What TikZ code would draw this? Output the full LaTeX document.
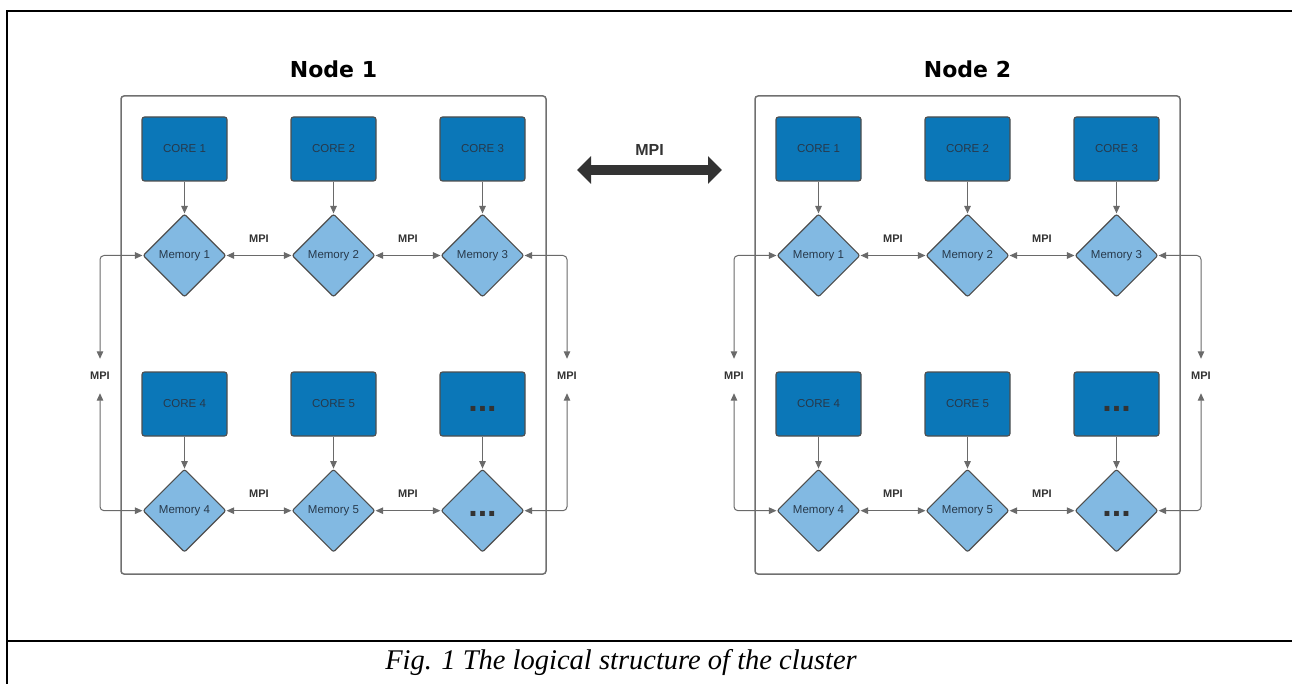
\documentclass[tikz,border=0pt]{standalone}
\usepackage{fontspec}
\setmainfont{Liberation Sans}
\newfontfamily\titlefont{DejaVu Sans}
\newfontfamily\capfont{Liberation Serif}
\usetikzlibrary{arrows.meta,shapes.geometric}

\definecolor{coreblue}{HTML}{0B77B8}
\definecolor{memblue}{HTML}{82B9E2}
\definecolor{edgegray}{HTML}{6A6A6A}
\definecolor{boxgray}{HTML}{4E4E4E}
\definecolor{framegray}{HTML}{707070}
\definecolor{labeltext}{HTML}{27394B}
\definecolor{darkarrow}{HTML}{333333}

% one compute node: title, frame, 2x3 cores with their memories and MPI links
\newcommand\clusterblock[3]{%
  \begin{scope}[xshift=#2pt]
    \node[titletext] (#1title) at (333.5,69) {Node #3};
    \node[framebox] (#1frame) at (333.5,335) {};
    % cores
    \node[corebox] (#1c1) at (184.5,149) {CORE 1};
    \node[corebox] (#1c2) at (333.5,149) {CORE 2};
    \node[corebox] (#1c3) at (482.5,149) {CORE 3};
    \node[corebox] (#1c4) at (184.5,404) {CORE 4};
    \node[corebox] (#1c5) at (333.5,404) {CORE 5};
    \node[corebox] (#1c6) at (482.5,404) {\rule{0pt}{14.5pt}\dotsmark};
    % memories
    \node[memnode] (#1m1) at (184.5,255.5) {Memory 1};
    \node[memnode] (#1m2) at (333.5,255.5) {Memory 2};
    \node[memnode] (#1m3) at (482.5,255.5) {Memory 3};
    \node[memnode] (#1m4) at (184.5,510.7) {Memory 4};
    \node[memnode] (#1m5) at (333.5,510.7) {Memory 5};
    \node[memnode] (#1m6) at (482.5,510.7) {\rule{0pt}{12.5pt}\dotsmark};
    % core -> memory
    \foreach \k in {1,...,6} {\draw[feed] (#1c\k) -- (#1m\k);}
    % MPI between neighbouring memories
    \node[mpitext] (#1l12) at (259,239) {MPI};
    \node[mpitext] (#1l23) at (408,239) {MPI};
    \node[mpitext] (#1l45) at (259,494) {MPI};
    \node[mpitext] (#1l56) at (408,494) {MPI};
    \draw[both] (#1m1) -- (#1m2);
    \draw[both] (#1m2) -- (#1m3);
    \draw[both] (#1m4) -- (#1m5);
    \draw[both] (#1m5) -- (#1m6);
    % MPI loops on the outer sides
    \node[sidetext] (#1sl) at (100,376) {MPI};
    \node[sidetext] (#1sr) at (567,376) {MPI};
    \draw[both,rounded corners=4pt] (#1m1.west) -| (#1sl.north);
    \draw[both,rounded corners=4pt] (#1sl.south) |- (#1m4.west);
    \draw[both,rounded corners=4pt] (#1m3.east) -| (#1sr.north);
    \draw[both,rounded corners=4pt] (#1sr.south) |- (#1m6.east);
  \end{scope}}

\newcommand\dotsmark{\textcolor{darkarrow}{\fontsize{34}{34}\selectfont\bfseries ...}}

\begin{document}
\begin{tikzpicture}[x=1pt,y=-1pt,
  titletext/.style={font=\titlefont\bfseries\fontsize{22}{26}\selectfont, text=black},
  framebox/.style={draw=framegray, line width=1.5pt, rounded corners=3pt,
    minimum width=425pt, minimum height=478pt, inner sep=0pt},
  corebox/.style={rectangle, rounded corners=2.5pt, draw=boxgray, line width=1.1pt,
    fill=coreblue, minimum width=85pt, minimum height=64pt, inner sep=0pt,
    text=labeltext, font=\fontsize{11.5}{13}\selectfont},
  memnode/.style={diamond, aspect=1, rounded corners=2pt, draw=boxgray, line width=1.1pt,
    fill=memblue, minimum width=83pt, minimum height=83pt, inner sep=0pt,
    text=labeltext, font=\fontsize{11.5}{13}\selectfont},
  feed/.style={draw=edgegray, line width=1pt, -{Triangle[length=7.5pt,width=6.5pt]}},
  both/.style={draw=edgegray, line width=1pt,
    {Triangle[length=7.5pt,width=6.5pt]}-{Triangle[length=7.5pt,width=6.5pt]}},
  mpitext/.style={font=\bfseries\fontsize{11}{13}\selectfont, text=darkarrow, inner sep=0pt},
  sidetext/.style={mpitext, minimum height=34pt},
]
\useasboundingbox (0,0) rectangle (1292,684);

% page frame and caption row
\draw[black, line width=1.8pt] (7,684) -- (7,11) -- (1293,11);
\draw[black, line width=1.8pt] (7,640.7) -- (1293,640.7);

\clusterblock{a}{0}{1}
\clusterblock{b}{634}{2}

% MPI between the two nodes
\coordinate (linkL) at (577,170);
\coordinate (linkR) at (722,170);
\draw[darkarrow, line width=10pt,
  {Triangle[length=14pt,width=27pt]}-{Triangle[length=14pt,width=27pt]}] (linkL) -- (linkR);
\node[font=\bfseries\fontsize{16}{19}\selectfont, text=darkarrow] (linkmpi) at (649.5,149.5) {MPI};

\node[font=\capfont\itshape\fontsize{28.5}{32}\selectfont, anchor=base] (caption)
  at (621,669) {Fig. 1 The logical structure of the cluster};
\end{tikzpicture}
\end{document}
